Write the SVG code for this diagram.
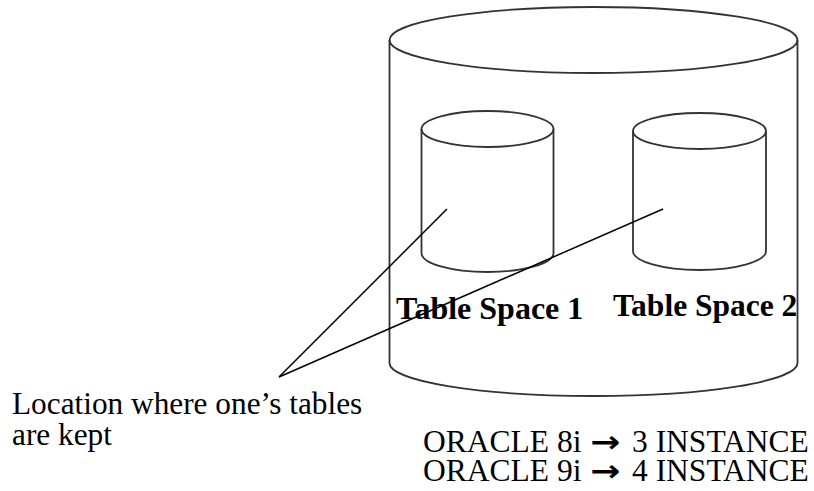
<svg xmlns="http://www.w3.org/2000/svg" width="814" height="491" viewBox="0 0 814 491">
<style>
.cyl{fill:none;stroke:#333;stroke-width:1.8}
.con{fill:none;stroke:#000;stroke-width:1.5}
.lbl{font-family:"Liberation Serif","Times New Roman",serif;fill:#000}
.b{font-weight:bold}
.arr{font-family:"DejaVu Sans",sans-serif;font-weight:bold;font-size:30px;fill:#000}
</style>
<rect width="814" height="491" fill="#fff"/>
<g id="database">
<ellipse class="cyl" cx="593.5" cy="40" rx="204" ry="33"/>
<path class="cyl" d="M389.5 40 V363 A204 33 0 0 0 797.5 363 V40"/>
<text class="lbl" x="423" y="452" font-size="31.5">ORACLE 8i</text>
<text class="arr" transform="translate(590 452) scale(1.2 1)">→</text>
<text class="lbl" x="632" y="452" font-size="31.5">3 INSTANCE</text>
<text class="lbl" x="423" y="481" font-size="31.5">ORACLE 9i</text>
<text class="arr" transform="translate(590 481) scale(1.2 1)">→</text>
<text class="lbl" x="632" y="481" font-size="31.5">4 INSTANCE</text>
</g>
<g id="tablespace1">
<ellipse class="cyl" cx="487.5" cy="129" rx="66" ry="18"/>
<path class="cyl" d="M421.5 129 V253 A66 19 0 0 0 553.5 253 V129"/>
<text class="lbl b" x="396" y="319" font-size="32">Table Space 1</text>
</g>
<g id="tablespace2">
<ellipse class="cyl" cx="699.5" cy="131" rx="66.5" ry="18"/>
<path class="cyl" d="M633 131 V251 A66.5 19 0 0 0 766 251 V131"/>
<text class="lbl b" x="613" y="316" font-size="31.5">Table Space 2</text>
</g>
<g id="note">
<text class="lbl" x="12" y="414" font-size="31.3">Location where one’s tables</text>
<text class="lbl" x="12" y="445" font-size="31.3">are kept</text>
</g>
<g id="connectors">
<line class="con" x1="279" y1="377" x2="447" y2="209"/>
<line class="con" x1="279" y1="377" x2="663" y2="209"/>
</g>
</svg>
